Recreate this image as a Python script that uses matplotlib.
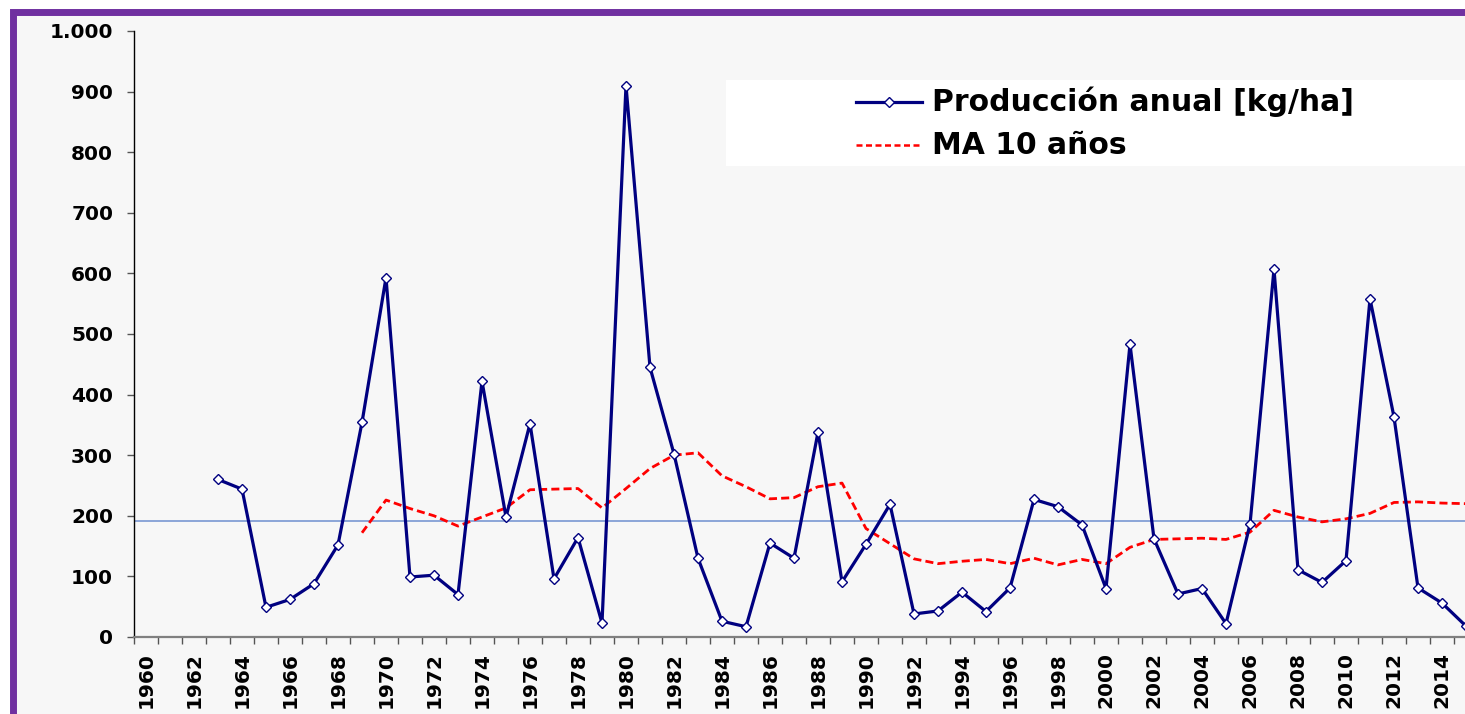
import matplotlib
matplotlib.use("Agg")
import matplotlib.pyplot as plt
from matplotlib.patches import Rectangle
from matplotlib.lines import Line2D
from matplotlib.ticker import FixedLocator, FuncFormatter

# ---------------- data ----------------
prod_years = list(range(1963, 2016))
produccion = [260, 244, 49, 62, 88, 152, 354, 593, 99, 102,
              70, 422, 198, 352, 96, 164, 23, 910, 445, 302,
              130, 26, 17, 155, 130, 338, 91, 153, 219, 38,
              43, 74, 42, 81, 227, 215, 185, 80, 483, 162,
              71, 80, 22, 186, 607, 111, 90, 126, 558, 363,
              81, 56, 18]
ma_years = list(range(1969, 2016))
ma10 = [172, 226, 212, 200, 183, 198, 213, 243, 244, 245,
        213, 245, 278, 300, 304, 266, 248, 228, 230, 248,
        254, 179, 154, 129, 121, 125, 128, 121, 130, 119,
        128, 121, 148, 161, 162, 163, 161, 173, 209, 198,
        190, 195, 204, 222, 223, 221, 220]
media = 191
label_years = list(range(1960, 2015, 2))
y_ticks = [0, 100, 200, 300, 400, 500, 600, 700, 800, 900, 1000]
legend_labels = ["Producción anual [kg/ha]", "MA 10 años"]

# ---------------- figure ----------------
W, H = 1465, 714
fig = plt.figure(figsize=(W / 100, H / 100), dpi=100, facecolor="white")
plt.rcParams['font.family'] = ['DejaVu Sans']

def fx(px):
    return px / W

def fy(py):
    return (H - py) / H

# outer chart frame (purple border, light grey fill)
frame = Rectangle((fx(13), fy(760)), fx(1600), fy(12) - fy(760),
                  transform=fig.transFigure, facecolor="#f7f7f7",
                  edgecolor="#7030a0", linewidth=5.0, zorder=-10)
fig.patches.append(frame)

ax = fig.add_axes([fx(134), fy(637), fx(1478) - fx(134), fy(31) - fy(637)])
ax.set_facecolor("none")
ax.set_zorder(1)

ax.set_xlim(1959.5, 2015.5)
ax.set_ylim(0, 1000)

ax.axhline(media, color="#6f8fcf", linewidth=1.1, zorder=2)
ax.plot(ma_years, ma10, color="#ff0000", linewidth=2.0,
        dashes=(2.9, 1.5), zorder=3)
ax.plot(prod_years, produccion, color="#000080", linewidth=2.3,
        marker="D", markersize=5.0, markerfacecolor="white",
        markeredgecolor="#000080", markeredgewidth=1.0, zorder=4)

# spines
for s in ["top", "right"]:
    ax.spines[s].set_visible(False)
ax.spines["left"].set_color("black")
ax.spines["left"].set_linewidth(1.0)
ax.spines["bottom"].set_color("#808080")
ax.spines["bottom"].set_linewidth(1.6)

# y ticks
ax.yaxis.set_major_locator(FixedLocator(y_ticks))
ax.yaxis.set_major_formatter(FuncFormatter(
    lambda v, p: f"{int(v):,}".replace(",", ".")))
ax.tick_params(axis="y", which="major", length=5, width=1.0,
               color="#555555", pad=10, labelsize=14.5)

# x ticks: labels at even years, tick marks at category boundaries
ax.xaxis.set_major_locator(FixedLocator(label_years))
ax.set_xticklabels([str(y) for y in label_years], rotation=90)
ax.xaxis.set_minor_locator(FixedLocator([y - 0.5 for y in range(1960, 2017)]))
ax.tick_params(axis="x", which="major", length=0, pad=11, labelsize=14.5)
ax.tick_params(axis="x", which="minor", length=5, width=1.0,
               color="#555555", direction="out")
for lab in ax.get_xticklabels() + ax.get_yticklabels():
    lab.set_fontweight("bold")

# legend (manual, white box)
box = Rectangle((fx(726), fy(166)), fx(1600) - fx(726), fy(80) - fy(166),
                transform=fig.transFigure, facecolor="white",
                edgecolor="none", zorder=5)
fig.patches.append(box)
fig.lines.append(Line2D([fx(856), fx(922)], [fy(102), fy(102)],
                        transform=fig.transFigure, color="#000080",
                        linewidth=2.3, zorder=6))
fig.lines.append(Line2D([fx(889)], [fy(102)], transform=fig.transFigure,
                        marker="D", markersize=5.0, markerfacecolor="white",
                        markeredgecolor="#000080", markeredgewidth=1.0,
                        linestyle="none", zorder=7))
fig.lines.append(Line2D([fx(856), fx(922)], [fy(145), fy(145)],
                        transform=fig.transFigure, color="#ff0000",
                        linewidth=1.8, dashes=(2.4, 1.4), zorder=6))
fig.text(fx(932), fy(102), legend_labels[0], fontsize=21.5, fontweight="bold",
         va="center", ha="left", zorder=8)
fig.text(fx(932), fy(145), legend_labels[1], fontsize=21.5, fontweight="bold",
         va="center", ha="left", zorder=8)

fig.savefig("out.png", dpi=100, facecolor="white")
